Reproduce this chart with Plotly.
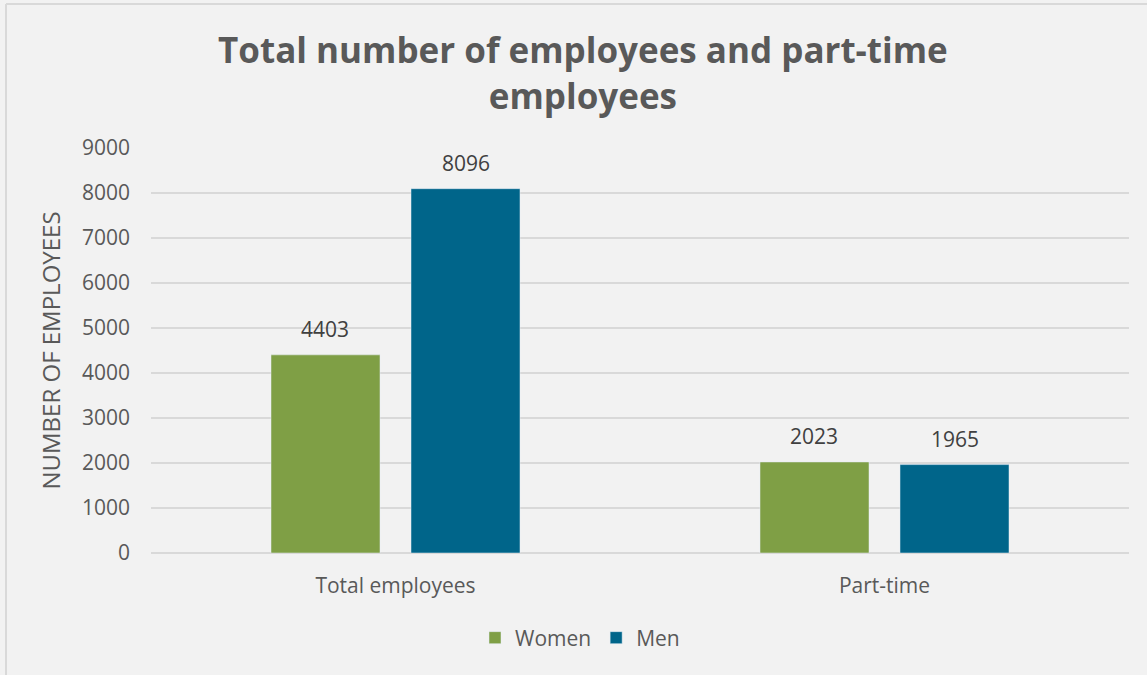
import plotly.graph_objects as go

categories = ["Total employees", "Part-time"]
women = [4403, 2023]
men = [8096, 1965]
y_ticks = [0, 1000, 2000, 3000, 4000, 5000, 6000, 7000, 8000, 9000]

W, H = 1147, 675
L, R, T, B = 151, 18, 148, 122
pw, ph = W - L - R, H - T - B

font = "Open Sans, Noto Sans, sans-serif"
txt = "#595959"
lbl = "#404040"

BARGAP = 0.4274
BARGROUPGAP = 0.2214

fig = go.Figure()
fig.add_bar(name="Women", x=categories, y=women, marker_color="#7f9f45")
fig.add_bar(name="Men", x=categories, y=men, marker_color="#00658a")

# data labels placed above each bar via the category axis
cat_w = pw / len(categories)
slot = cat_w * (1 - BARGAP) / 2
for series, sign in ((women, -1), (men, 1)):
    for c, v in zip(categories, series):
        fig.add_annotation(x=c, y=v, xref="x", yref="y", text=str(v),
                           showarrow=False, xshift=sign * slot / 2,
                           yanchor="bottom", yshift=10,
                           font=dict(size=21, color=lbl, family=font))

fig.update_layout(
    width=W, height=H,
    margin=dict(l=L, r=R, t=T, b=B),
    paper_bgcolor="#f2f2f2", plot_bgcolor="#f2f2f2",
    barmode="group", bargap=BARGAP, bargroupgap=BARGROUPGAP,
    font=dict(family=font, color=txt),
    legend=dict(orientation="h", x=(580 - L) / pw, xanchor="center",
                y=-(638 - 553) / ph, yanchor="middle",
                font=dict(size=21, color=txt), traceorder="normal",
                itemwidth=30, bgcolor="rgba(0,0,0,0)"),
    showlegend=True,
)
fig.add_annotation(text="<b>Total number of employees and part-time<br>employees</b>",
                   xref="paper", yref="paper", x=(583 - L) / pw,
                   y=(H - B - 72) / ph, xanchor="center", yanchor="middle",
                   showarrow=False, font=dict(size=35, color=txt, family=font))

fig.update_xaxes(showgrid=False, showline=False, ticks="",
                 tickfont=dict(size=21, color=txt), ticklabelstandoff=18)
fig.update_yaxes(range=[0, 9000], tickvals=y_ticks, showgrid=True,
                 gridcolor="#d9d9d9", gridwidth=1.5, zeroline=True,
                 zerolinecolor="#d9d9d9", zerolinewidth=1.5,
                 tickfont=dict(size=21, color=txt), ticklabelstandoff=20,
                 title=dict(text="NUMBER OF EMPLOYEES", standoff=14,
                            font=dict(size=24, color=txt)))

# outer chart border (top and left edges visible)
bx = (6 - L) / pw
by = (H - B - 4) / ph
fig.add_shape(type="line", xref="paper", yref="paper", x0=bx, x1=1.2, y0=by, y1=by,
              line=dict(color="#d9d9d9", width=2))
fig.add_shape(type="line", xref="paper", yref="paper", x0=bx, x1=bx, y0=by, y1=-0.5,
              line=dict(color="#d9d9d9", width=2))

fig.write_html("out.html")
